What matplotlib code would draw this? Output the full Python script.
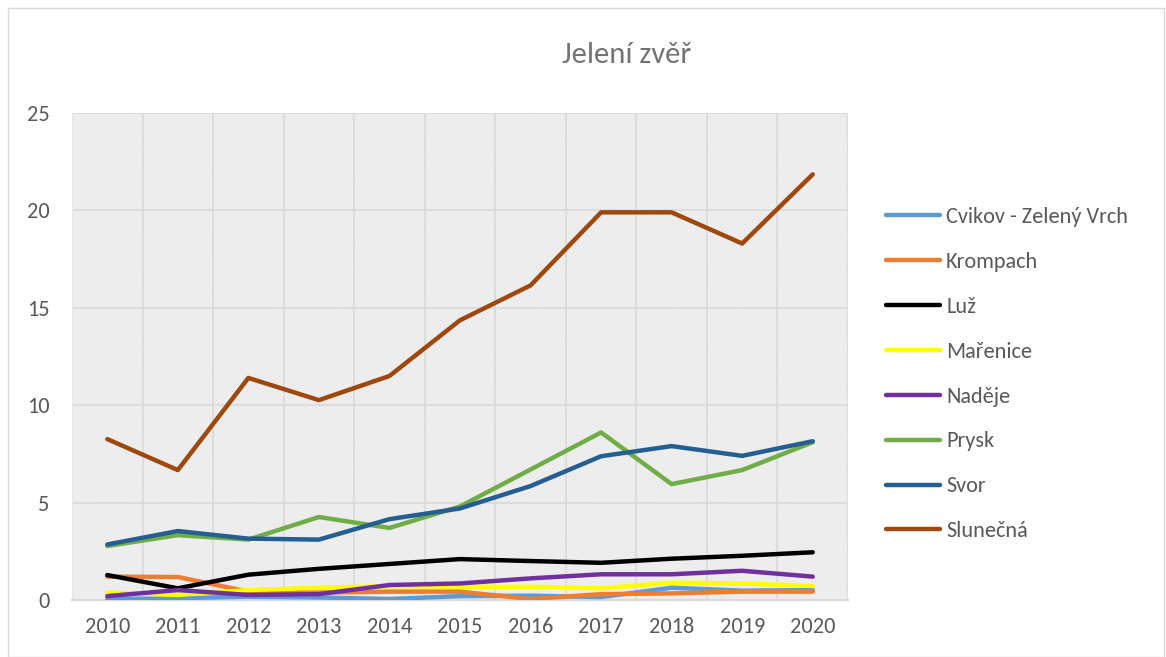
import matplotlib
matplotlib.use("Agg")
import matplotlib.pyplot as plt
from matplotlib.patches import Rectangle

years = ["2010", "2011", "2012", "2013", "2014", "2015", "2016", "2017", "2018", "2019", "2020"]
cvikov = [0.05, 0.09, 0.17, 0.13, 0.05, 0.2, 0.22, 0.15, 0.63, 0.48, 0.51]
krompach = [1.2, 1.18, 0.43, 0.38, 0.43, 0.43, 0.05, 0.3, 0.34, 0.43, 0.43]
luz = [1.28, 0.6, 1.3, 1.6, 1.85, 2.1, 2.0, 1.91, 2.12, 2.27, 2.45]
marenice = [0.38, 0.26, 0.51, 0.63, 0.71, 0.68, 0.68, 0.6, 0.89, 0.85, 0.72]
nadeje = [0.2, 0.51, 0.26, 0.3, 0.77, 0.85, 1.11, 1.32, 1.32, 1.5, 1.2]
prysk = [2.77, 3.33, 3.1, 4.26, 3.7, 4.8, 6.7, 8.6, 5.95, 6.67, 8.1]
svor = [2.85, 3.54, 3.15, 3.1, 4.15, 4.7, 5.85, 7.38, 7.9, 7.4, 8.15]
slunecna = [8.26, 6.67, 11.4, 10.26, 11.5, 14.36, 16.15, 19.9, 19.9, 18.3, 21.85]

names = ["Cvikov - Zelený Vrch", "Krompach", "Luž", "Mařenice", "Naděje", "Prysk", "Svor", "Slunečná"]
series = [cvikov, krompach, luz, marenice, nadeje, prysk, svor, slunecna]
colors = ["#5b9bd5", "#ed7d31", "#000000", "#ffff00", "#7030a0", "#70ad47", "#255e91", "#9e480e"]

plt.rcParams['font.family'] = ['Calibri', 'Carlito', 'Liberation Sans', 'DejaVu Sans']
plt.rcParams['hatch.color'] = '#e2e2e2'
plt.rcParams['hatch.linewidth'] = 0.8

fig = plt.figure(figsize=(11.66, 6.57), dpi=100)
fig.patches.append(Rectangle((8/1166, 0.0), 1 - 8/1166 - 2/1166, 1 - 8/657, transform=fig.transFigure,
                             fill=False, edgecolor='#d9d9d9', linewidth=1.0))
ax = fig.add_axes([72/1166, 57/657, (848-72)/1166, (600-113)/657])

x = list(range(len(years)))
ax.add_patch(Rectangle((0, 0), 1, 1, transform=ax.transAxes, facecolor='white',
                       edgecolor='#e2e2e2', linewidth=0, hatch='\\' * 13, zorder=0))

for name, vals, c in zip(names, series, colors):
    ax.plot(x, vals, color=c, linewidth=3.2, label=name, solid_capstyle='round', zorder=3)

ax.set_xlim(-0.5, len(years) - 0.5)
ax.set_ylim(0, 25)
ax.set_yticks([0, 5, 10, 15, 20, 25])
ax.set_xticks(x)
ax.set_xticklabels(years)
ax.set_xticks([i + 0.5 for i in range(-1, len(years))], minor=True)
ax.grid(axis='y', which='major', color='#d9d9d9', linewidth=1.2, zorder=1)
ax.grid(axis='x', which='minor', color='#d9d9d9', linewidth=1.2, zorder=1)
ax.tick_params(axis='both', which='both', length=0, labelsize=16, labelcolor='#595959')
ax.tick_params(axis='x', pad=12)
ax.tick_params(axis='y', pad=16)
for s in ['top', 'right']:
    ax.spines[s].set_visible(False)
ax.spines['left'].set_color('#e6e6e6')
ax.spines['bottom'].set_color('#d9d9d9')
ax.spines['bottom'].set_linewidth(1.5)
ax.set_axisbelow(True)

fig.text(627/1166, 1 - 55/657, "Jelení zvěř", ha='center', va='center',
         fontsize=22, color='#737373')

leg = ax.legend(loc='upper left', bbox_to_anchor=(886/1166, (657-207)/657), bbox_transform=fig.transFigure,
                frameon=False, fontsize=16, handlelength=2.45, labelspacing=1.12, handletextpad=0.25,
                borderpad=0, borderaxespad=0)
for t in leg.get_texts():
    t.set_color('#595959')

fig.savefig("out.png", dpi=100)
